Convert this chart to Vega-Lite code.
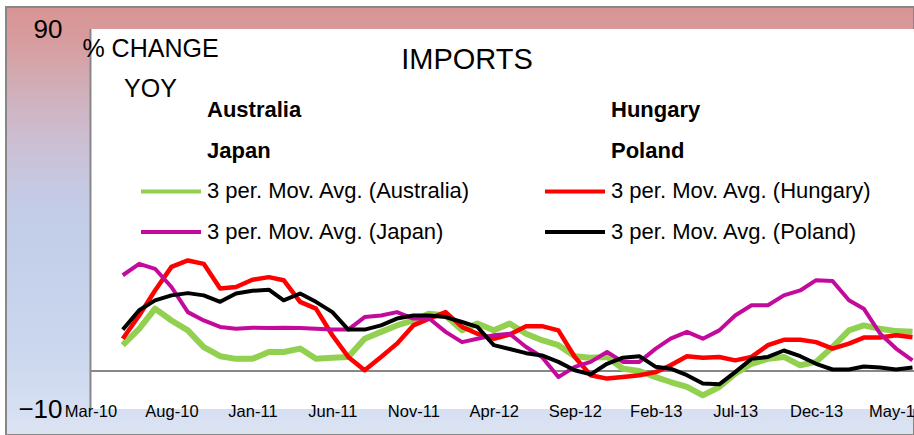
{
  "$schema": "https://vega.github.io/schema/vega-lite/v6.json",
  "width": 908,
  "height": 428,
  "autosize": {"type": "none"},
  "padding": {"left": 6, "top": 7, "right": 0, "bottom": 0},
  "background": "white",
  "config": {
    "font": "Liberation Sans",
    "view": {
      "fill": {
        "gradient": "linear", "x1": 0, "y1": 0, "x2": 0, "y2": 1,
        "stops": [
          {"offset": 0, "color": "#d99494"},
          {"offset": 0.08, "color": "#d79c9e"},
          {"offset": 0.22, "color": "#cfb3bf"},
          {"offset": 0.33, "color": "#cbc0d5"},
          {"offset": 0.45, "color": "#c4cbe6"},
          {"offset": 0.55, "color": "#c3cfe9"},
          {"offset": 0.8, "color": "#cbd7ee"},
          {"offset": 0.94, "color": "#d6dff2"},
          {"offset": 1, "color": "#dce4f3"}
        ]
      },
      "stroke": "#878787",
      "strokeWidth": 2
    }
  },
  "title": {
    "text": "IMPORTS",
    "fontSize": 29,
    "fontWeight": "normal",
    "color": "black",
    "anchor": "middle",
    "frame": "group",
    "baseline": "alphabetic",
    "offset": -91,
    "dx": 7
  },
  "layer": [
    {
      "data": {"values": [{}]},
      "mark": {"type": "rect", "color": "white", "clip": true},
      "encoding": {
        "x": {"datum": {"year": 2010, "month": 3, "date": 1, "utc": true}, "type": "temporal"},
        "x2": {"datum": {"year": 2015, "month": 1, "date": 1, "utc": true}},
        "y": {"datum": -10, "type": "quantitative"},
        "y2": {"datum": 90}
      }
    },
    {
      "data": {"values": [{}]},
      "mark": {"type": "rule", "color": "#878787", "strokeWidth": 2, "clip": true},
      "encoding": {
        "x": {"datum": {"year": 2010, "month": 3, "date": 1, "utc": true}, "type": "temporal"},
        "x2": {"datum": {"year": 2015, "month": 1, "date": 1, "utc": true}},
        "y": {"datum": 0, "type": "quantitative"}
      }
    },
    {
      "data": {"values": [{}]},
      "mark": {"type": "rule", "color": "#878787", "strokeWidth": 2},
      "encoding": {
        "x": {"datum": {"year": 2010, "month": 3, "date": 1, "utc": true}, "type": "temporal"},
        "y": {"datum": -10, "type": "quantitative"},
        "y2": {"datum": 90}
      }
    },
    {
      "data": {"values": [
        {"month":"2010-05-01","series":"3 per. Mov. Avg. (Australia)","value":6.8},
        {"month":"2010-06-01","series":"3 per. Mov. Avg. (Australia)","value":11.1},
        {"month":"2010-07-01","series":"3 per. Mov. Avg. (Australia)","value":16.4},
        {"month":"2010-08-01","series":"3 per. Mov. Avg. (Australia)","value":13.3},
        {"month":"2010-09-01","series":"3 per. Mov. Avg. (Australia)","value":10.7},
        {"month":"2010-10-01","series":"3 per. Mov. Avg. (Australia)","value":6.3},
        {"month":"2010-11-01","series":"3 per. Mov. Avg. (Australia)","value":3.9},
        {"month":"2010-12-01","series":"3 per. Mov. Avg. (Australia)","value":3.2},
        {"month":"2011-01-01","series":"3 per. Mov. Avg. (Australia)","value":3.2},
        {"month":"2011-02-01","series":"3 per. Mov. Avg. (Australia)","value":5.0},
        {"month":"2011-03-01","series":"3 per. Mov. Avg. (Australia)","value":5.0},
        {"month":"2011-04-01","series":"3 per. Mov. Avg. (Australia)","value":5.9},
        {"month":"2011-05-01","series":"3 per. Mov. Avg. (Australia)","value":3.2},
        {"month":"2011-06-01","series":"3 per. Mov. Avg. (Australia)","value":3.5},
        {"month":"2011-07-01","series":"3 per. Mov. Avg. (Australia)","value":3.7},
        {"month":"2011-08-01","series":"3 per. Mov. Avg. (Australia)","value":8.5},
        {"month":"2011-09-01","series":"3 per. Mov. Avg. (Australia)","value":10.3},
        {"month":"2011-10-01","series":"3 per. Mov. Avg. (Australia)","value":12.0},
        {"month":"2011-11-01","series":"3 per. Mov. Avg. (Australia)","value":13.3},
        {"month":"2011-12-01","series":"3 per. Mov. Avg. (Australia)","value":15.1},
        {"month":"2012-01-01","series":"3 per. Mov. Avg. (Australia)","value":14.6},
        {"month":"2012-02-01","series":"3 per. Mov. Avg. (Australia)","value":10.7},
        {"month":"2012-03-01","series":"3 per. Mov. Avg. (Australia)","value":12.5},
        {"month":"2012-04-01","series":"3 per. Mov. Avg. (Australia)","value":10.7},
        {"month":"2012-05-01","series":"3 per. Mov. Avg. (Australia)","value":12.5},
        {"month":"2012-06-01","series":"3 per. Mov. Avg. (Australia)","value":9.8},
        {"month":"2012-07-01","series":"3 per. Mov. Avg. (Australia)","value":8.1},
        {"month":"2012-08-01","series":"3 per. Mov. Avg. (Australia)","value":6.8},
        {"month":"2012-09-01","series":"3 per. Mov. Avg. (Australia)","value":3.9},
        {"month":"2012-10-01","series":"3 per. Mov. Avg. (Australia)","value":3.5},
        {"month":"2012-11-01","series":"3 per. Mov. Avg. (Australia)","value":3.7},
        {"month":"2012-12-01","series":"3 per. Mov. Avg. (Australia)","value":0.6},
        {"month":"2013-01-01","series":"3 per. Mov. Avg. (Australia)","value":0.0},
        {"month":"2013-02-01","series":"3 per. Mov. Avg. (Australia)","value":-1.6},
        {"month":"2013-03-01","series":"3 per. Mov. Avg. (Australia)","value":-2.9},
        {"month":"2013-04-01","series":"3 per. Mov. Avg. (Australia)","value":-4.2},
        {"month":"2013-05-01","series":"3 per. Mov. Avg. (Australia)","value":-6.4},
        {"month":"2013-06-01","series":"3 per. Mov. Avg. (Australia)","value":-4.2},
        {"month":"2013-07-01","series":"3 per. Mov. Avg. (Australia)","value":-0.7},
        {"month":"2013-08-01","series":"3 per. Mov. Avg. (Australia)","value":1.9},
        {"month":"2013-09-01","series":"3 per. Mov. Avg. (Australia)","value":3.2},
        {"month":"2013-10-01","series":"3 per. Mov. Avg. (Australia)","value":3.7},
        {"month":"2013-11-01","series":"3 per. Mov. Avg. (Australia)","value":1.5},
        {"month":"2013-12-01","series":"3 per. Mov. Avg. (Australia)","value":2.4},
        {"month":"2014-01-01","series":"3 per. Mov. Avg. (Australia)","value":6.3},
        {"month":"2014-02-01","series":"3 per. Mov. Avg. (Australia)","value":10.7},
        {"month":"2014-03-01","series":"3 per. Mov. Avg. (Australia)","value":12.0},
        {"month":"2014-04-01","series":"3 per. Mov. Avg. (Australia)","value":11.1},
        {"month":"2014-05-01","series":"3 per. Mov. Avg. (Australia)","value":10.5},
        {"month":"2014-06-01","series":"3 per. Mov. Avg. (Australia)","value":10.3},

        {"month":"2010-05-01","series":"3 per. Mov. Avg. (Hungary)","value":8.5},
        {"month":"2010-06-01","series":"3 per. Mov. Avg. (Hungary)","value":14.6},
        {"month":"2010-07-01","series":"3 per. Mov. Avg. (Hungary)","value":21.2},
        {"month":"2010-08-01","series":"3 per. Mov. Avg. (Hungary)","value":27.4},
        {"month":"2010-09-01","series":"3 per. Mov. Avg. (Hungary)","value":29.1},
        {"month":"2010-10-01","series":"3 per. Mov. Avg. (Hungary)","value":28.2},
        {"month":"2010-11-01","series":"3 per. Mov. Avg. (Hungary)","value":21.7},
        {"month":"2010-12-01","series":"3 per. Mov. Avg. (Hungary)","value":22.1},
        {"month":"2011-01-01","series":"3 per. Mov. Avg. (Hungary)","value":24.0},
        {"month":"2011-02-01","series":"3 per. Mov. Avg. (Hungary)","value":24.7},
        {"month":"2011-03-01","series":"3 per. Mov. Avg. (Hungary)","value":23.9},
        {"month":"2011-04-01","series":"3 per. Mov. Avg. (Hungary)","value":18.2},
        {"month":"2011-05-01","series":"3 per. Mov. Avg. (Hungary)","value":16.4},
        {"month":"2011-06-01","series":"3 per. Mov. Avg. (Hungary)","value":9.4},
        {"month":"2011-07-01","series":"3 per. Mov. Avg. (Hungary)","value":3.7},
        {"month":"2011-08-01","series":"3 per. Mov. Avg. (Hungary)","value":0.2},
        {"month":"2011-09-01","series":"3 per. Mov. Avg. (Hungary)","value":3.7},
        {"month":"2011-10-01","series":"3 per. Mov. Avg. (Hungary)","value":7.2},
        {"month":"2011-11-01","series":"3 per. Mov. Avg. (Hungary)","value":12.0},
        {"month":"2011-12-01","series":"3 per. Mov. Avg. (Hungary)","value":13.8},
        {"month":"2012-01-01","series":"3 per. Mov. Avg. (Hungary)","value":15.5},
        {"month":"2012-02-01","series":"3 per. Mov. Avg. (Hungary)","value":11.6},
        {"month":"2012-03-01","series":"3 per. Mov. Avg. (Hungary)","value":9.8},
        {"month":"2012-04-01","series":"3 per. Mov. Avg. (Hungary)","value":8.5},
        {"month":"2012-05-01","series":"3 per. Mov. Avg. (Hungary)","value":9.6},
        {"month":"2012-06-01","series":"3 per. Mov. Avg. (Hungary)","value":11.8},
        {"month":"2012-07-01","series":"3 per. Mov. Avg. (Hungary)","value":11.8},
        {"month":"2012-08-01","series":"3 per. Mov. Avg. (Hungary)","value":10.7},
        {"month":"2012-09-01","series":"3 per. Mov. Avg. (Hungary)","value":3.7},
        {"month":"2012-10-01","series":"3 per. Mov. Avg. (Hungary)","value":-1.1},
        {"month":"2012-11-01","series":"3 per. Mov. Avg. (Hungary)","value":-2.0},
        {"month":"2012-12-01","series":"3 per. Mov. Avg. (Hungary)","value":-1.6},
        {"month":"2013-01-01","series":"3 per. Mov. Avg. (Hungary)","value":-1.1},
        {"month":"2013-02-01","series":"3 per. Mov. Avg. (Hungary)","value":-0.3},
        {"month":"2013-03-01","series":"3 per. Mov. Avg. (Hungary)","value":1.5},
        {"month":"2013-04-01","series":"3 per. Mov. Avg. (Hungary)","value":3.9},
        {"month":"2013-05-01","series":"3 per. Mov. Avg. (Hungary)","value":3.5},
        {"month":"2013-06-01","series":"3 per. Mov. Avg. (Hungary)","value":3.7},
        {"month":"2013-07-01","series":"3 per. Mov. Avg. (Hungary)","value":2.8},
        {"month":"2013-08-01","series":"3 per. Mov. Avg. (Hungary)","value":3.7},
        {"month":"2013-09-01","series":"3 per. Mov. Avg. (Hungary)","value":6.8},
        {"month":"2013-10-01","series":"3 per. Mov. Avg. (Hungary)","value":8.2},
        {"month":"2013-11-01","series":"3 per. Mov. Avg. (Hungary)","value":8.2},
        {"month":"2013-12-01","series":"3 per. Mov. Avg. (Hungary)","value":7.6},
        {"month":"2014-01-01","series":"3 per. Mov. Avg. (Hungary)","value":5.9},
        {"month":"2014-02-01","series":"3 per. Mov. Avg. (Hungary)","value":7.2},
        {"month":"2014-03-01","series":"3 per. Mov. Avg. (Hungary)","value":8.8},
        {"month":"2014-04-01","series":"3 per. Mov. Avg. (Hungary)","value":8.8},
        {"month":"2014-05-01","series":"3 per. Mov. Avg. (Hungary)","value":9.4},
        {"month":"2014-06-01","series":"3 per. Mov. Avg. (Hungary)","value":8.9},

        {"month":"2010-05-01","series":"3 per. Mov. Avg. (Japan)","value":25.2},
        {"month":"2010-06-01","series":"3 per. Mov. Avg. (Japan)","value":28.2},
        {"month":"2010-07-01","series":"3 per. Mov. Avg. (Japan)","value":26.9},
        {"month":"2010-08-01","series":"3 per. Mov. Avg. (Japan)","value":22.1},
        {"month":"2010-09-01","series":"3 per. Mov. Avg. (Japan)","value":15.5},
        {"month":"2010-10-01","series":"3 per. Mov. Avg. (Japan)","value":13.3},
        {"month":"2010-11-01","series":"3 per. Mov. Avg. (Japan)","value":11.6},
        {"month":"2010-12-01","series":"3 per. Mov. Avg. (Japan)","value":11.1},
        {"month":"2011-01-01","series":"3 per. Mov. Avg. (Japan)","value":11.4},
        {"month":"2011-02-01","series":"3 per. Mov. Avg. (Japan)","value":11.3},
        {"month":"2011-03-01","series":"3 per. Mov. Avg. (Japan)","value":11.4},
        {"month":"2011-04-01","series":"3 per. Mov. Avg. (Japan)","value":11.3},
        {"month":"2011-05-01","series":"3 per. Mov. Avg. (Japan)","value":11.1},
        {"month":"2011-06-01","series":"3 per. Mov. Avg. (Japan)","value":10.9},
        {"month":"2011-07-01","series":"3 per. Mov. Avg. (Japan)","value":10.9},
        {"month":"2011-08-01","series":"3 per. Mov. Avg. (Japan)","value":14.2},
        {"month":"2011-09-01","series":"3 per. Mov. Avg. (Japan)","value":14.6},
        {"month":"2011-10-01","series":"3 per. Mov. Avg. (Japan)","value":15.5},
        {"month":"2011-11-01","series":"3 per. Mov. Avg. (Japan)","value":13.8},
        {"month":"2011-12-01","series":"3 per. Mov. Avg. (Japan)","value":13.8},
        {"month":"2012-01-01","series":"3 per. Mov. Avg. (Japan)","value":10.3},
        {"month":"2012-02-01","series":"3 per. Mov. Avg. (Japan)","value":7.6},
        {"month":"2012-03-01","series":"3 per. Mov. Avg. (Japan)","value":8.5},
        {"month":"2012-04-01","series":"3 per. Mov. Avg. (Japan)","value":9.4},
        {"month":"2012-05-01","series":"3 per. Mov. Avg. (Japan)","value":9.8},
        {"month":"2012-06-01","series":"3 per. Mov. Avg. (Japan)","value":6.3},
        {"month":"2012-07-01","series":"3 per. Mov. Avg. (Japan)","value":3.7},
        {"month":"2012-08-01","series":"3 per. Mov. Avg. (Japan)","value":-1.6},
        {"month":"2012-09-01","series":"3 per. Mov. Avg. (Japan)","value":1.1},
        {"month":"2012-10-01","series":"3 per. Mov. Avg. (Japan)","value":2.4},
        {"month":"2012-11-01","series":"3 per. Mov. Avg. (Japan)","value":5.0},
        {"month":"2012-12-01","series":"3 per. Mov. Avg. (Japan)","value":2.4},
        {"month":"2013-01-01","series":"3 per. Mov. Avg. (Japan)","value":2.4},
        {"month":"2013-02-01","series":"3 per. Mov. Avg. (Japan)","value":5.9},
        {"month":"2013-03-01","series":"3 per. Mov. Avg. (Japan)","value":8.5},
        {"month":"2013-04-01","series":"3 per. Mov. Avg. (Japan)","value":10.3},
        {"month":"2013-05-01","series":"3 per. Mov. Avg. (Japan)","value":8.5},
        {"month":"2013-06-01","series":"3 per. Mov. Avg. (Japan)","value":10.7},
        {"month":"2013-07-01","series":"3 per. Mov. Avg. (Japan)","value":14.6},
        {"month":"2013-08-01","series":"3 per. Mov. Avg. (Japan)","value":17.3},
        {"month":"2013-09-01","series":"3 per. Mov. Avg. (Japan)","value":17.3},
        {"month":"2013-10-01","series":"3 per. Mov. Avg. (Japan)","value":19.9},
        {"month":"2013-11-01","series":"3 per. Mov. Avg. (Japan)","value":21.2},
        {"month":"2013-12-01","series":"3 per. Mov. Avg. (Japan)","value":23.9},
        {"month":"2014-01-01","series":"3 per. Mov. Avg. (Japan)","value":23.7},
        {"month":"2014-02-01","series":"3 per. Mov. Avg. (Japan)","value":18.6},
        {"month":"2014-03-01","series":"3 per. Mov. Avg. (Japan)","value":16.4},
        {"month":"2014-04-01","series":"3 per. Mov. Avg. (Japan)","value":9.8},
        {"month":"2014-05-01","series":"3 per. Mov. Avg. (Japan)","value":5.9},
        {"month":"2014-06-01","series":"3 per. Mov. Avg. (Japan)","value":2.8},

        {"month":"2010-05-01","series":"3 per. Mov. Avg. (Poland)","value":10.9},
        {"month":"2010-06-01","series":"3 per. Mov. Avg. (Poland)","value":16.0},
        {"month":"2010-07-01","series":"3 per. Mov. Avg. (Poland)","value":18.6},
        {"month":"2010-08-01","series":"3 per. Mov. Avg. (Poland)","value":19.9},
        {"month":"2010-09-01","series":"3 per. Mov. Avg. (Poland)","value":20.5},
        {"month":"2010-10-01","series":"3 per. Mov. Avg. (Poland)","value":19.9},
        {"month":"2010-11-01","series":"3 per. Mov. Avg. (Poland)","value":18.2},
        {"month":"2010-12-01","series":"3 per. Mov. Avg. (Poland)","value":20.4},
        {"month":"2011-01-01","series":"3 per. Mov. Avg. (Poland)","value":21.1},
        {"month":"2011-02-01","series":"3 per. Mov. Avg. (Poland)","value":21.4},
        {"month":"2011-03-01","series":"3 per. Mov. Avg. (Poland)","value":18.6},
        {"month":"2011-04-01","series":"3 per. Mov. Avg. (Poland)","value":20.4},
        {"month":"2011-05-01","series":"3 per. Mov. Avg. (Poland)","value":18.2},
        {"month":"2011-06-01","series":"3 per. Mov. Avg. (Poland)","value":15.5},
        {"month":"2011-07-01","series":"3 per. Mov. Avg. (Poland)","value":10.9},
        {"month":"2011-08-01","series":"3 per. Mov. Avg. (Poland)","value":10.9},
        {"month":"2011-09-01","series":"3 per. Mov. Avg. (Poland)","value":12.0},
        {"month":"2011-10-01","series":"3 per. Mov. Avg. (Poland)","value":13.8},
        {"month":"2011-11-01","series":"3 per. Mov. Avg. (Poland)","value":14.6},
        {"month":"2011-12-01","series":"3 per. Mov. Avg. (Poland)","value":14.6},
        {"month":"2012-01-01","series":"3 per. Mov. Avg. (Poland)","value":14.2},
        {"month":"2012-02-01","series":"3 per. Mov. Avg. (Poland)","value":12.9},
        {"month":"2012-03-01","series":"3 per. Mov. Avg. (Poland)","value":11.6},
        {"month":"2012-04-01","series":"3 per. Mov. Avg. (Poland)","value":6.8},
        {"month":"2012-05-01","series":"3 per. Mov. Avg. (Poland)","value":5.8},
        {"month":"2012-06-01","series":"3 per. Mov. Avg. (Poland)","value":4.7},
        {"month":"2012-07-01","series":"3 per. Mov. Avg. (Poland)","value":4.1},
        {"month":"2012-08-01","series":"3 per. Mov. Avg. (Poland)","value":2.4},
        {"month":"2012-09-01","series":"3 per. Mov. Avg. (Poland)","value":0.2},
        {"month":"2012-10-01","series":"3 per. Mov. Avg. (Poland)","value":-0.9},
        {"month":"2012-11-01","series":"3 per. Mov. Avg. (Poland)","value":1.9},
        {"month":"2012-12-01","series":"3 per. Mov. Avg. (Poland)","value":3.5},
        {"month":"2013-01-01","series":"3 per. Mov. Avg. (Poland)","value":3.9},
        {"month":"2013-02-01","series":"3 per. Mov. Avg. (Poland)","value":1.1},
        {"month":"2013-03-01","series":"3 per. Mov. Avg. (Poland)","value":0.6},
        {"month":"2013-04-01","series":"3 per. Mov. Avg. (Poland)","value":-1.1},
        {"month":"2013-05-01","series":"3 per. Mov. Avg. (Poland)","value":-3.3},
        {"month":"2013-06-01","series":"3 per. Mov. Avg. (Poland)","value":-3.5},
        {"month":"2013-07-01","series":"3 per. Mov. Avg. (Poland)","value":-0.3},
        {"month":"2013-08-01","series":"3 per. Mov. Avg. (Poland)","value":3.2},
        {"month":"2013-09-01","series":"3 per. Mov. Avg. (Poland)","value":3.7},
        {"month":"2013-10-01","series":"3 per. Mov. Avg. (Poland)","value":5.4},
        {"month":"2013-11-01","series":"3 per. Mov. Avg. (Poland)","value":3.9},
        {"month":"2013-12-01","series":"3 per. Mov. Avg. (Poland)","value":1.9},
        {"month":"2014-01-01","series":"3 per. Mov. Avg. (Poland)","value":0.4},
        {"month":"2014-02-01","series":"3 per. Mov. Avg. (Poland)","value":0.4},
        {"month":"2014-03-01","series":"3 per. Mov. Avg. (Poland)","value":1.2},
        {"month":"2014-04-01","series":"3 per. Mov. Avg. (Poland)","value":0.9},
        {"month":"2014-05-01","series":"3 per. Mov. Avg. (Poland)","value":0.4},
        {"month":"2014-06-01","series":"3 per. Mov. Avg. (Poland)","value":0.9}
      ]},
      "mark": {"type": "line", "strokeJoin": "round"},
      "encoding": {
        "x": {
          "field": "month",
          "type": "temporal",
          "scale": {
            "type": "utc",
            "domain": [
              {"year": 2009, "month": 9, "date": 22, "hours": 9, "minutes": 36, "utc": true},
              {"year": 2014, "month": 6, "date": 3, "hours": 22, "utc": true}
            ]
          },
          "axis": {
            "title": null,
            "orient": "bottom",
            "offset": -25,
            "zindex": 1,
            "values": [
              {"year": 2010, "month": 3, "date": 1, "utc": true},
              {"year": 2010, "month": 8, "date": 1, "utc": true},
              {"year": 2011, "month": 1, "date": 1, "utc": true},
              {"year": 2011, "month": 6, "date": 1, "utc": true},
              {"year": 2011, "month": 11, "date": 1, "utc": true},
              {"year": 2012, "month": 4, "date": 1, "utc": true},
              {"year": 2012, "month": 9, "date": 1, "utc": true},
              {"year": 2013, "month": 2, "date": 1, "utc": true},
              {"year": 2013, "month": 7, "date": 1, "utc": true},
              {"year": 2013, "month": 12, "date": 1, "utc": true},
              {"year": 2014, "month": 5, "date": 1, "utc": true}
            ],
            "format": "%b-%y",
            "labelFontSize": 16.5,
            "labelColor": "black",
            "labelBaseline": "middle",
            "labelPadding": 1,
            "labelOverlap": false,
            "labelFlush": false,
            "domain": false,
            "ticks": false,
            "tickSize": 0,
            "grid": false
          }
        },
        "y": {
          "field": "value",
          "type": "quantitative",
          "scale": {"domain": [-16.84, 95.79], "nice": false, "zero": false},
          "axis": {
            "title": ["% CHANGE", "YOY"],
            "titleAngle": 0,
            "titleAlign": "center",
            "titleBaseline": "middle",
            "titleX": 58,
            "titleY": 41,
            "titleFontSize": 25,
            "titleFontWeight": "normal",
            "titleColor": "black",
            "titleLineHeight": 40,
            "offset": -86,
            "zindex": 1,
            "values": [-10, 90],
            "labelFontSize": 26,
            "labelColor": "black",
            "labelBaseline": "middle",
            "labelPadding": 30,
            "labelFlush": false,
            "domain": false,
            "ticks": false,
            "tickSize": 0,
            "grid": false
          }
        },
        "color": {
          "field": "series",
          "type": "nominal",
          "scale": {
            "domain": ["Australia", "Hungary", "Japan", "Poland",
                       "3 per. Mov. Avg. (Australia)", "3 per. Mov. Avg. (Hungary)",
                       "3 per. Mov. Avg. (Japan)", "3 per. Mov. Avg. (Poland)"],
            "range": ["transparent", "transparent", "transparent", "transparent",
                      "#92d050", "#ff0000", "#c40a9a", "#000000"]
          },
          "legend": {
            "title": null,
            "orient": "none",
            "direction": "horizontal",
            "legendX": 133,
            "legendY": 92,
            "columns": 2,
            "columnPadding": 72,
            "rowPadding": 18.7,
            "padding": 0,
            "symbolType": "stroke",
            "symbolSize": 3600,
            "symbolStrokeWidth": 4,
            "clipHeight": 22,
            "labelFontSize": 22,
            "labelOffset": 4,
            "labelLimit": 0,
            "labelColor": "black",
            "encode": {
              "labels": {
                "update": {
                  "fontWeight": {"signal": "indexof(datum.label, '3 per') === 0 ? 'normal' : 'bold'"}
                }
              }
            }
          }
        },
        "strokeWidth": {
          "field": "series",
          "type": "nominal",
          "scale": {
            "type": "ordinal",
            "domain": ["3 per. Mov. Avg. (Australia)", "3 per. Mov. Avg. (Hungary)",
                       "3 per. Mov. Avg. (Japan)", "3 per. Mov. Avg. (Poland)"],
            "range": [6, 4.5, 4, 4]
          },
          "legend": null
        }
      }
    }
  ]
}
